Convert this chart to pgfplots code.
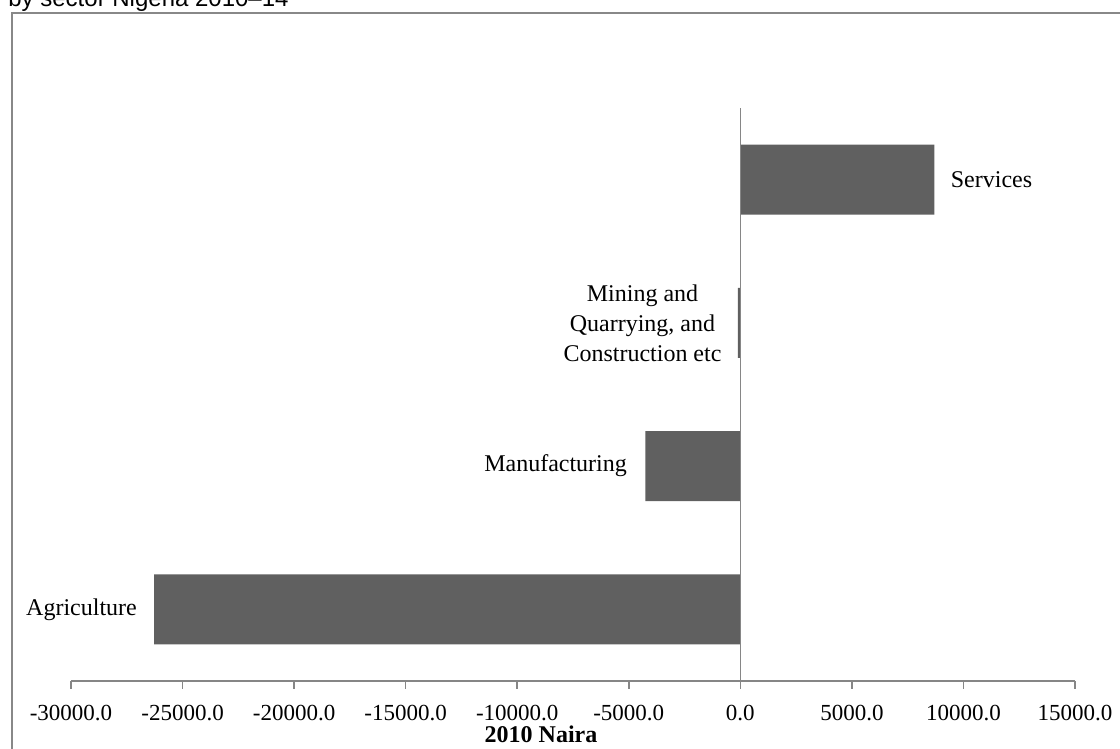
\documentclass[border=0pt]{standalone}
\usepackage{fontspec}
\setmainfont{Liberation Serif}
\newfontfamily\arialfont{Liberation Sans}
\usepackage{pgfplots}
\pgfplotsset{compat=1.18}
\definecolor{barc}{RGB}{96,96,96}
\definecolor{axc}{RGB}{134,134,134}
\definecolor{framec}{RGB}{136,136,136}
\begin{document}
\begin{tikzpicture}[x=0.5pt,y=0.5pt]
\useasboundingbox (0,0) rectangle (1120,749);
\draw[framec, line width=1pt] (12,-5) -- (12,736) -- (1125,736);
\node[anchor=base west, inner sep=0pt, font=\arialfont\fontsize{12}{14}\selectfont] at (8,742) {by sector Nigeria 2010–14};
\begin{axis}[
  at={(35.5pt,34pt)}, anchor=south west, scale only axis,
  width=502pt, height=286.5pt,
  xmin=-30000, xmax=15000, ymin=-0.5, ymax=3.5,
  axis x line=bottom, axis y line=none,
  x axis line style={axc, line width=0.75pt, -},
  xtick={-30000,-25000,...,15000},
  ytick=\empty,
  tick align=outside, major tick length=4pt,
  tick style={axc, line width=0.75pt},
  scaled ticks=false,
  clip=false,
  xticklabel style={font=\fontsize{11.5}{13}\selectfont, anchor=north, inner sep=0pt, yshift=-8pt},
  /pgf/number format/.cd, fixed, fixed zerofill, precision=1, 1000 sep={}, assume math mode=true,
]
\addplot[xbar, bar width=35pt, fill=barc, draw=none] coordinates {(-26270,0) (-4260,1) (-110,2) (8700,3)};
\draw[axc, line width=0.75pt] (axis cs:0,-0.5) -- (axis cs:0,3.5);
\node[anchor=west, inner sep=0pt, xshift=8pt, font=\fontsize{12}{15}\selectfont] at (axis cs:8700,3) {Services};
\node[anchor=east, inner sep=0pt, xshift=-8pt, align=center, font=\fontsize{12}{15}\selectfont] at (axis cs:-110,2) {Mining and\\Quarrying, and\\Construction etc};
\node[anchor=east, inner sep=0pt, xshift=-9pt, font=\fontsize{12}{15}\selectfont] at (axis cs:-4260,1) {Manufacturing};
\node[anchor=east, inner sep=0pt, xshift=-8.5pt, font=\fontsize{12}{15}\selectfont] at (axis cs:-26270,0) {Agriculture};
\end{axis}
\node[anchor=base, inner sep=0pt, font=\bfseries\fontsize{12}{14}\selectfont] at (541,6) {2010 Naira};
\end{tikzpicture}
\end{document}
